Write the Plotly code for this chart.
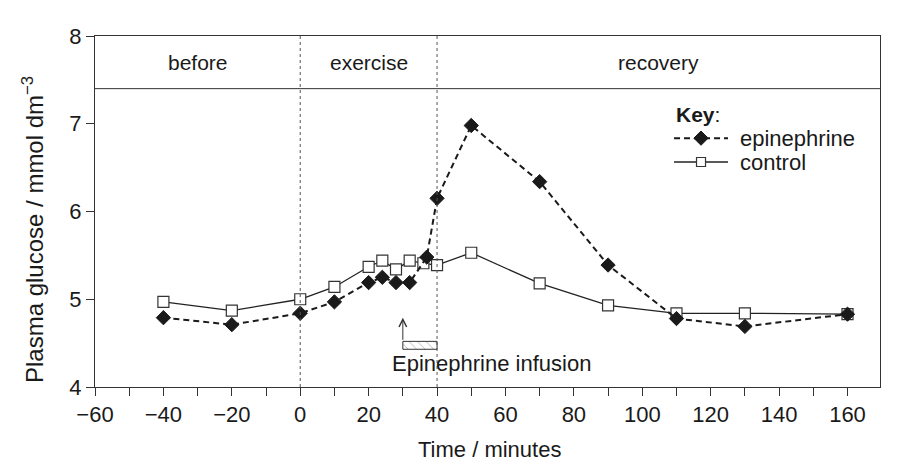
import plotly.graph_objects as go

# ---- data ----
epi_time = [-40, -20, 0, 10, 20, 24, 28, 32, 37, 40, 50, 70, 90, 110, 130, 160]
epi_glucose = [4.79, 4.71, 4.84, 4.97, 5.19, 5.25, 5.19, 5.19, 5.48, 6.15, 6.98, 6.34, 5.39, 4.78, 4.69, 4.83]

ctl_time = [-40, -20, 0, 10, 20, 24, 28, 32, 36, 40, 50, 70, 90, 110, 130, 160]
ctl_glucose = [4.97, 4.87, 5.0, 5.14, 5.37, 5.44, 5.34, 5.44, 5.41, 5.39, 5.53, 5.18, 4.93, 4.84, 4.84, 4.83]

series_names = ["epinephrine", "control"]

phase_labels = ["before", "exercise", "recovery"]
phase_bounds = [-60, 0, 40, 169.5]
phase_band = [7.4, 8.0]

infusion_start, infusion_end = 30, 40
infusion_bar = [4.43, 4.52]
infusion_arrow_tip = 4.79
infusion_text = "Epinephrine infusion"

x_ticks = [-60, -40, -20, 0, 20, 40, 60, 80, 100, 120, 140, 160]
y_ticks = [4, 5, 6, 7, 8]

FONT = "Liberation Sans, Arial, sans-serif"
INK = "#1a1a1a"

EPI_LINE = dict(color=INK, width=2, dash="6px,4px")
EPI_MARK = dict(symbol="diamond", size=11, color=INK, line=dict(color=INK, width=1))
CTL_LINE = dict(color="#222222", width=1.3)
CTL_MARK = dict(symbol="square", size=11, color="white", line=dict(color="#333333", width=1.2))

fig = go.Figure()

fig.add_trace(go.Scatter(x=ctl_time, y=ctl_glucose, name=series_names[1],
                         mode="lines+markers", line=CTL_LINE, marker=CTL_MARK, showlegend=False))
fig.add_trace(go.Scatter(x=epi_time, y=epi_glucose, name=series_names[0],
                         mode="lines+markers", line=EPI_LINE, marker=EPI_MARK, showlegend=False))

# hatched infusion bar
fig.add_trace(go.Scatter(
    x=[infusion_start, infusion_end, infusion_end, infusion_start, infusion_start],
    y=[infusion_bar[0], infusion_bar[0], infusion_bar[1], infusion_bar[1], infusion_bar[0]],
    mode="lines", fill="toself", fillcolor="white",
    fillpattern=dict(shape="\\", fgcolor="#444444", bgcolor="white", size=6, solidity=0.12),
    line=dict(color="#333333", width=1), showlegend=False, hoverinfo="skip",
))

# arrow
fig.add_annotation(
    x=infusion_start, y=infusion_arrow_tip, ax=infusion_start, ay=infusion_bar[1],
    xref="x", yref="y", axref="x", ayref="y", text="", showarrow=True,
    arrowhead=5, arrowsize=1.5, arrowwidth=1, arrowcolor="#333333",
)
fig.add_annotation(
    x=56, y=4.27, xref="x", yref="y", text=infusion_text, showarrow=False,
    xanchor="center", yanchor="middle",
    font=dict(family=FONT, size=22, color=INK),
)

# phase band
fig.add_shape(type="line", xref="paper", yref="y", x0=0, x1=1,
              y0=phase_band[0], y1=phase_band[0], line=dict(color="#333333", width=1))
for b in phase_bounds[1:-1]:
    fig.add_shape(type="line", xref="x", yref="y", x0=b, x1=b, y0=4, y1=8,
                  line=dict(color="#555555", width=1, dash="dot"))
for i, lab in enumerate(phase_labels):
    xc = (phase_bounds[i] + phase_bounds[i + 1]) / 2
    fig.add_annotation(x=xc, y=(phase_band[0] + phase_band[1]) / 2, xref="x", yref="y",
                       xanchor="center", yanchor="middle",
                       text=lab, showarrow=False, font=dict(family=FONT, size=21, color=INK))

# ---- key (drawn on an overlay axis spanning the plot area, 0..1) ----
key_x0, key_x1, key_text_x = 0.7376, 0.8064, 0.819
key_title_y = 0.775
key_rows_y = [0.709, 0.641]
fig.add_annotation(x=key_x0, y=key_title_y, xref="x2", yref="y2", xanchor="left", yanchor="middle",
                   text="<b>Key</b>:", showarrow=False, font=dict(family=FONT, size=21, color=INK))
for name, ky, ln, mk in zip(series_names, key_rows_y, [EPI_LINE, CTL_LINE], [EPI_MARK, CTL_MARK]):
    fig.add_trace(go.Scatter(x=[key_x0, key_x1], y=[ky, ky], xaxis="x2", yaxis="y2", mode="lines",
                             line=ln, showlegend=False, hoverinfo="skip"))
    m = dict(mk)
    if mk["symbol"] == "square":
        m["size"] = 9
    fig.add_trace(go.Scatter(x=[(key_x0 + key_x1) / 2], y=[ky], xaxis="x2", yaxis="y2",
                             mode="markers", marker=m, showlegend=False, hoverinfo="skip"))
    fig.add_annotation(x=key_text_x, y=ky, xref="x2", yref="y2", xanchor="left", yanchor="middle",
                       text=name, showarrow=False, font=dict(family=FONT, size=22, color=INK))

# axis titles as annotations (positioned like the reference)
fig.add_annotation(x=0.502, y=-0.177, xref="paper", yref="paper", text="Time / minutes",
                   xanchor="center", yanchor="middle",
                   showarrow=False, font=dict(family=FONT, size=22, color=INK))
fig.add_annotation(x=-0.079, y=0.45, xref="paper", yref="paper", textangle=-90,
                   xanchor="center", yanchor="middle",
                   text="Plasma glucose / mmol dm<sup>−3</sup>",
                   showarrow=False, font=dict(family=FONT, size=24, color=INK))

fig.update_layout(
    width=902, height=476,
    margin=dict(l=95, r=22, t=36, b=89),
    paper_bgcolor="white", plot_bgcolor="white",
    font=dict(family=FONT, size=22, color=INK),
    showlegend=False,
    xaxis=dict(
        range=[-60, 169.5], tickvals=x_ticks, ticks="outside", ticklen=8, tickcolor="#333333",
        minor=dict(dtick=10, ticks="outside", ticklen=8, tickcolor="#333333"),
        showline=True, linecolor="#333333", linewidth=1, mirror=True, showgrid=False, zeroline=False,
        tickfont=dict(size=22), automargin=False,
    ),
    yaxis=dict(
        range=[4, 8], tickvals=y_ticks, ticks="outside", ticklen=8, tickcolor="#333333",
        showline=True, linecolor="#333333", linewidth=1, mirror=True, showgrid=False, zeroline=False,
        tickfont=dict(size=22), automargin=False,
    ),
    xaxis2=dict(overlaying="x", range=[0, 1], visible=False, automargin=False),
    yaxis2=dict(overlaying="y", range=[0, 1], visible=False, automargin=False),
)

fig.write_html("out.html")
